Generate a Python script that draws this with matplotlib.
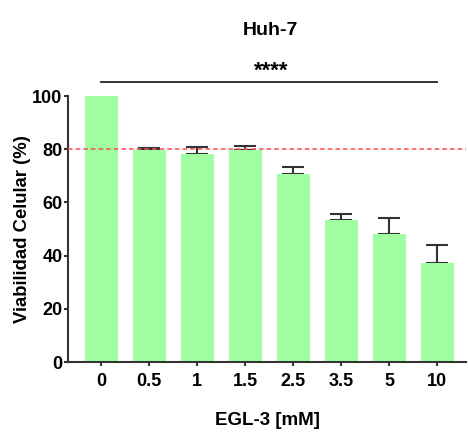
import numpy as np
import matplotlib.pyplot as plt

plt.rcParams['font.family'] = ['Liberation Sans', 'DejaVu Sans']
plt.rcParams['font.weight'] = 'bold'

doses = ['0', '0.5', '1', '1.5', '2.5', '3.5', '5', '10']
viability = [100, 79.8, 78.2, 79.7, 70.6, 53.4, 48.1, 37.2]
sem = [0, 0.6, 2.6, 1.5, 2.8, 2.4, 6.0, 6.8]
threshold = 80
sig_level = 105.4
sig_text = '****'

fig = plt.figure(figsize=(4.68, 4.37), dpi=100)
ax = fig.add_axes([0.1453, 0.1716, 0.8504, 0.6087])

x = np.arange(len(doses))
ax.bar(x, viability, width=0.69, color='#a0ffa0', zorder=2)
ax.errorbar(x, viability, yerr=[np.zeros(len(sem)), sem], fmt='none',
            ecolor='#333333', elinewidth=1.5, capsize=8, capthick=1.5, zorder=1)

ax.axhline(threshold, color='#ff5050', linestyle=(0, (3, 2)), linewidth=1.1, zorder=3)

ax.plot([x[0], x[-1]], [sig_level, sig_level], color='#222222', linewidth=1.3, clip_on=False)
ax.text((x[0] + x[-1]) / 2 + 0.05, sig_level - 0.2, sig_text, ha='center', va='bottom',
        fontsize=16, fontweight='bold')

ax.set_xlim(-0.69, 7.6)
ax.set_ylim(0, 100)
ax.set_yticks([0, 20, 40, 60, 80, 100])
ax.set_xticks(x)
ax.set_xticklabels(doses)

for s in ['top', 'right']:
    ax.spines[s].set_visible(False)
for s in ['left', 'bottom']:
    ax.spines[s].set_linewidth(1.5)
    ax.spines[s].set_color('#333333')

ax.tick_params(axis='y', labelsize=13, width=1.5, length=3, color='#333333', pad=1)
ax.tick_params(axis='x', labelsize=13, width=1.5, length=3, color='#333333', pad=5)
for lab in ax.get_xticklabels() + ax.get_yticklabels():
    lab.set_fontweight('bold')

ax.set_ylabel('Viabilidad Celular (%)', fontsize=13.3, fontweight='bold', labelpad=1)
ax.set_xlabel('EGL-3 [mM]', fontsize=13.5, fontweight='bold', labelpad=16)
fig.text(0.577, 0.93, 'Huh-7', ha='center', va='center', fontsize=14, fontweight='bold')

fig.savefig('out.png', dpi=100)
